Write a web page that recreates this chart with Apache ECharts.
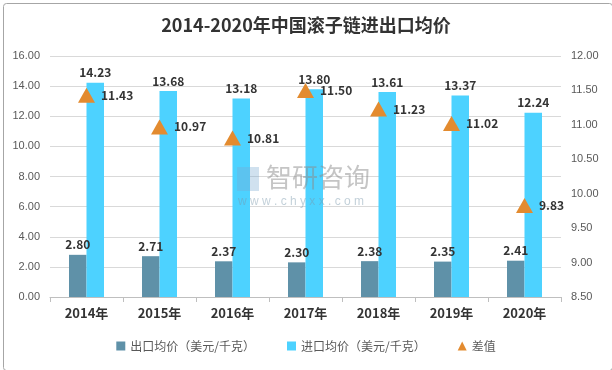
<!DOCTYPE html>
<html><head><meta charset="utf-8">
<script src="https://cdn.jsdelivr.net/npm/echarts@6/dist/echarts.min.js"></script>
<style>html,body{margin:0;padding:0;background:#fff}#c{width:612px;height:370px}</style>
</head><body><div id="c"></div>
<script>
const categories = ['2014年','2015年','2016年','2017年','2018年','2019年','2020年'];
const exportPrice = [2.80,2.71,2.37,2.30,2.38,2.35,2.41];
const importPrice = [14.23,13.68,13.18,13.80,13.61,13.37,12.24];
const diffValues = [11.43,10.97,10.81,11.50,11.23,11.02,9.83];
const seriesNames = ['出口均价（美元/千克）','进口均价（美元/千克）','差值'];

const font = '"Noto Sans CJK SC", "Noto Sans", sans-serif';
const chart = echarts.init(document.getElementById('c'), null, {renderer:'canvas'});
const lbl = {show:true, position:'top', fontFamily:font, fontWeight:'bold', fontSize:12, color:'#333', formatter: p => p.value.toFixed(2), distance:4};
chart.setOption({
  animation:false,
  textStyle:{fontFamily:font},
  title:{text:'2014-2020年中国滚子链进出口均价', left:'center', top:11,
    textStyle:{fontFamily:font, fontWeight:'bold', fontSize:18, color:'#333'}},
  grid:{left:50, right:51, top:56, bottom:73},
  legend:{bottom:13, left:'center', itemWidth:9, itemHeight:9, itemGap:32,
    textStyle:{fontFamily:font, fontSize:12, color:'#595959'},
    data:[{name:seriesNames[0], icon:'rect'},{name:seriesNames[1], icon:'rect'},{name:seriesNames[2], icon:'triangle'}]},
  xAxis:{type:'category', data:categories, boundaryGap:true,
    axisLine:{lineStyle:{color:'#bfbfbf'}},
    axisTick:{show:true, alignWithLabel:false, lineStyle:{color:'#bfbfbf'}, length:5},
    axisLabel:{fontFamily:font, fontSize:13, fontWeight:'bold', color:'#333', margin:10}},
  yAxis:[
    {type:'value', min:0, max:16, interval:2,
     axisLabel:{formatter:v=>v.toFixed(2), color:'#595959', fontSize:11, fontFamily:'"Liberation Sans", sans-serif', margin:10},
     axisLine:{show:false}, axisTick:{show:false},
     splitLine:{lineStyle:{color:'#d9d9d9'}}},
    {type:'value', min:8.5, max:12, interval:0.5,
     axisLabel:{formatter:v=>v.toFixed(2), color:'#595959', fontSize:11, fontFamily:'"Liberation Sans", sans-serif', margin:10},
     axisLine:{show:false}, axisTick:{show:false}, splitLine:{show:false}}
  ],
  series:[
    {name:seriesNames[0], type:'bar', data:exportPrice, barWidth:17.5, barGap:'0%',
     itemStyle:{color:'#5F91A8'}, label:lbl},
    {name:seriesNames[1], type:'bar', data:importPrice, barWidth:17.5, barGap:'0%',
     itemStyle:{color:'#4DD2FF'}, label:lbl},
    {name:seriesNames[2], type:'scatter', yAxisIndex:1, data:diffValues, symbol:'triangle', symbolSize:[17,15],
     itemStyle:{color:'#E38B2F', opacity:1}, z:5,
     label:Object.assign({}, lbl, {position:'right', distance:6})}
  ],
  graphic:[
    {type:'rect', left:1, top:1, shape:{width:609, height:367, r:3}, style:{fill:null, stroke:'#a6a6a6', lineWidth:1}, silent:true},
    {type:'text', left:266, top:164, style:{text:'智研咨询', font:'26px "Noto Sans CJK SC"', fill:'rgba(140,140,140,0.5)'}, z:10},
    {type:'text', left:238, top:196, style:{text:'w w w . c h y x x . c o m', font:'12px "Liberation Sans"', fill:'rgba(120,150,170,0.45)'}, z:10},
    {type:'rect', left:237, top:167, shape:{width:22, height:24}, style:{fill:'rgba(120,170,210,0.35)'}, z:10}
  ]
});
</script></body></html>
